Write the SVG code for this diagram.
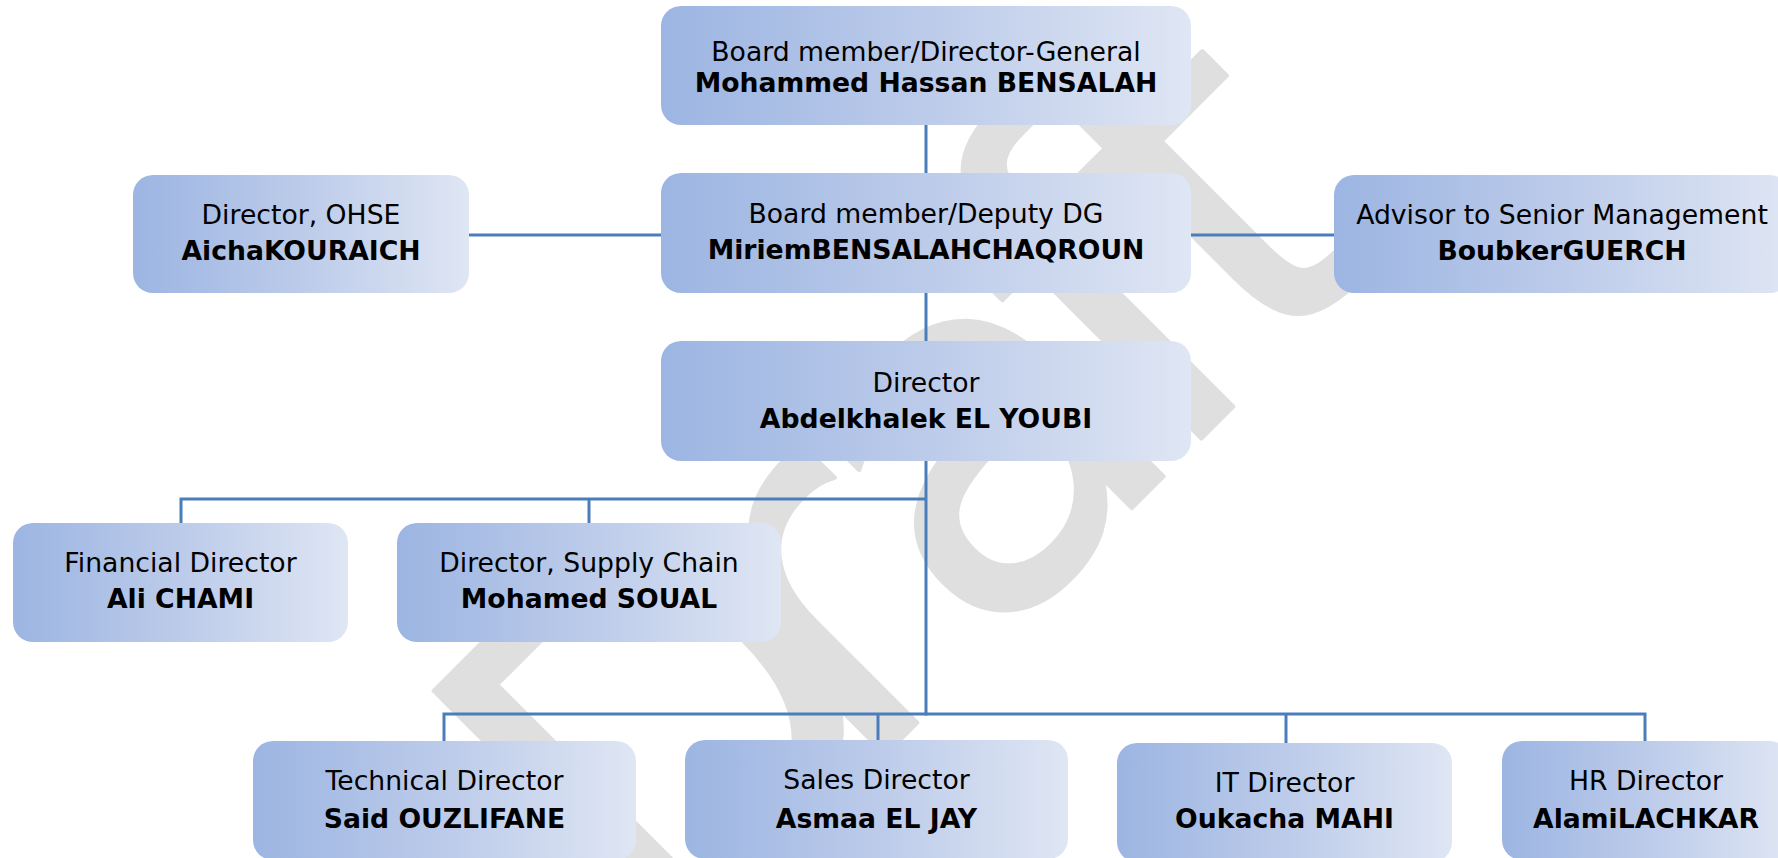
<svg xmlns="http://www.w3.org/2000/svg" width="1778" height="858" viewBox="0 0 1778 858">
  <defs>
    <linearGradient id="boxGrad" x1="0" y1="0" x2="1" y2="0">
      <stop offset="0" stop-color="#9cb5e2"/>
      <stop offset="0.5" stop-color="#bccbea"/>
      <stop offset="1" stop-color="#dfe6f4"/>
    </linearGradient>
    <style>
      .box { fill: url(#boxGrad); }
      .role { font-family: "DejaVu Sans", Verdana, sans-serif; font-size: 26.67px; fill: #000; text-anchor: middle; }
      .name { font-family: "DejaVu Sans", Verdana, sans-serif; font-size: 26.67px; font-weight: bold; fill: #000; text-anchor: middle; }
      .conn { stroke: #4a7ebb; stroke-width: 3; fill: none; }
      .wm { font-family: "DejaVu Sans", sans-serif; font-size: 500px; fill: #dfdfdf; stroke: #dfdfdf; stroke-width: 4; stroke-linejoin: round; }
    </style>
  </defs>
  <rect width="1778" height="858" fill="#ffffff"/>

  <text class="wm" transform="translate(820,820) rotate(-45)" x="-231 47 225 485 630" y="0">Draft</text>

  <g id="connectors">
    <line class="conn" x1="926" y1="125" x2="926" y2="173"/>
    <line class="conn" x1="926" y1="293" x2="926" y2="341"/>
    <line class="conn" x1="469" y1="235" x2="661" y2="235"/>
    <line class="conn" x1="1191" y1="235" x2="1334" y2="235"/>
    <line class="conn" x1="926" y1="461" x2="926" y2="715.5"/>
    <polyline class="conn" points="181,523 181,499 926,499"/>
    <line class="conn" x1="589" y1="499" x2="589" y2="523"/>
    <polyline class="conn" points="444,741 444,714 1645,714 1645,741"/>
    <line class="conn" x1="878" y1="714" x2="878" y2="740"/>
    <line class="conn" x1="1286" y1="714" x2="1286" y2="743"/>
  </g>

  <g id="node-dg">
    <rect class="box" x="661" y="6" width="530" height="119" rx="20"/>
    <text class="role" x="926" y="61">Board member/Director-General</text>
    <text class="name" x="926" y="92">Mohammed Hassan BENSALAH</text>
  </g>
  <g id="node-deputy">
    <rect class="box" x="661" y="173" width="530" height="120" rx="20"/>
    <text class="role" x="926" y="223">Board member/Deputy DG</text>
    <text class="name" x="926" y="259">MiriemBENSALAHCHAQROUN</text>
  </g>
  <g id="node-ohse">
    <rect class="box" x="133" y="175" width="336" height="118" rx="20"/>
    <text class="role" x="301" y="224">Director, OHSE</text>
    <text class="name" x="301" y="260">AichaKOURAICH</text>
  </g>
  <g id="node-advisor">
    <rect class="box" x="1334" y="175" width="456" height="118" rx="20"/>
    <text class="role" x="1562" y="224">Advisor to Senior Management</text>
    <text class="name" x="1562" y="260">BoubkerGUERCH</text>
  </g>
  <g id="node-director">
    <rect class="box" x="661" y="341" width="530" height="120" rx="20"/>
    <text class="role" x="926" y="392">Director</text>
    <text class="name" x="926" y="428">Abdelkhalek EL YOUBI</text>
  </g>
  <g id="node-financial">
    <rect class="box" x="13" y="523" width="335" height="119" rx="20"/>
    <text class="role" x="180.5" y="572">Financial Director</text>
    <text class="name" x="180.5" y="608">Ali CHAMI</text>
  </g>
  <g id="node-supply">
    <rect class="box" x="397" y="523" width="384" height="119" rx="20"/>
    <text class="role" x="589" y="572">Director, Supply Chain</text>
    <text class="name" x="589" y="608">Mohamed SOUAL</text>
  </g>
  <g id="node-technical">
    <rect class="box" x="253" y="741" width="383" height="119" rx="20"/>
    <text class="role" x="444.5" y="790">Technical Director</text>
    <text class="name" x="444.5" y="828">Said OUZLIFANE</text>
  </g>
  <g id="node-sales">
    <rect class="box" x="685" y="740" width="383" height="119" rx="20"/>
    <text class="role" x="876.5" y="789">Sales Director</text>
    <text class="name" x="876.5" y="828">Asmaa EL JAY</text>
  </g>
  <g id="node-it">
    <rect class="box" x="1117" y="743" width="335" height="119" rx="20"/>
    <text class="role" x="1284.5" y="792">IT Director</text>
    <text class="name" x="1284.5" y="828">Oukacha MAHI</text>
  </g>
  <g id="node-hr">
    <rect class="box" x="1502" y="741" width="288" height="119" rx="20"/>
    <text class="role" x="1646" y="790">HR Director</text>
    <text class="name" x="1646" y="828">AlamiLACHKAR</text>
  </g>
</svg>
